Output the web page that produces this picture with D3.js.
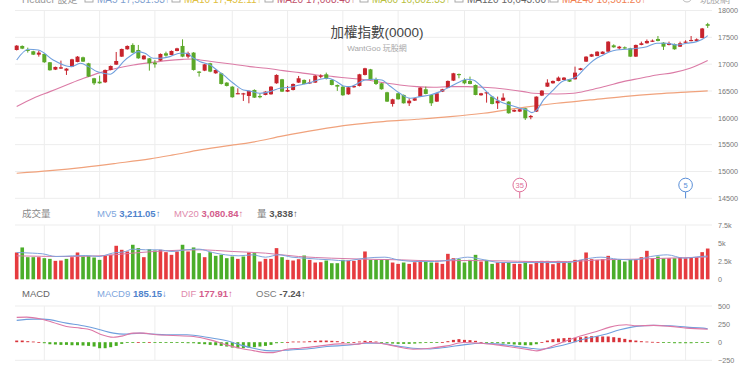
<!DOCTYPE html>
<html><head><meta charset="utf-8">
<script src="https://cdn.jsdelivr.net/npm/d3@7"></script>
<style>
html,body{margin:0;padding:0;background:#fff;overflow:hidden}
svg{display:block;font-family:"Liberation Sans",Arial,"Noto Sans CJK TC",sans-serif}
</style></head><body>
<svg id="c" width="740" height="367"></svg>
<script>
// ---------- DATA ----------
const openP=[17264,17339,17268,17240,17177,17190,17035,16898,16917,16879,
16954,17041,17128,17016,16737,16674,16662,16892,16991,17140,
17277,17358,17264,17090,17109,17028,17066,17202,17171,17246,
17339,17140,17215,16861,16879,17016,16830,16830,16656,16581,
16451,16445,16407,16519,16407,16426,16438,16643,16718,16488,
16519,16656,16706,16643,16656,16768,16811,16706,16612,16581,
16438,16569,16594,16799,16904,16718,16643,16476,16258,16457,
16426,16271,16320,16395,16532,16426,16302,16488,16563,16693,
16817,16706,16687,16612,16420,16465,16395,16271,16320,16302,
16116,16116,16178,16010,16116,16414,16581,16643,16687,16706,
16718,16718,16892,17047,17140,17153,17190,17233,17351,17295,
17314,17295,17140,17358,17389,17420,17470,17401,17358,17376,
17326,17401,17432,17432,17488,17745];
const closeP=[17345,17289,17262,17177,17215,17035,16886,16948,16942,16917,
17090,17140,17047,16768,16643,16643,16892,16966,17059,17283,
17339,17215,17109,17159,17016,16997,17190,17159,17246,17295,
17140,17202,16892,16842,16997,16861,16892,16631,16594,16383,
16460,16457,16501,16376,16383,16488,16581,16799,16488,16519,
16631,16737,16631,16662,16786,16786,16724,16612,16581,16420,
16569,16594,16811,16923,16706,16631,16532,16302,16345,16345,
16271,16320,16364,16563,16445,16271,16457,16532,16687,16830,
16799,16643,16631,16426,16457,16476,16258,16320,16376,16085,
16147,16159,15991,16035,16395,16507,16656,16687,16749,16749,
16674,16842,16923,17140,17184,17233,17233,17420,17314,17326,
17295,17140,17358,17389,17432,17439,17432,17326,17389,17277,
17389,17420,17451,17463,17665,17715];
const highP=[17355,17350,17308,17250,17252,17200,17040,16955,17066,16925,
17100,17150,17140,17025,16745,16786,16900,16975,17227,17290,
17350,17389,17358,17170,17115,17078,17200,17233,17255,17305,
17463,17233,17225,16870,17005,17025,16900,16840,16665,16590,
16550,16465,16510,16530,16457,16495,16590,16810,16725,16594,
16640,16780,16715,16718,16795,16811,16842,16715,16620,16590,
16578,16605,16820,16932,16912,16749,16650,16485,16355,16465,
16435,16364,16370,16570,16581,16435,16465,16540,16695,16838,
16825,16737,16768,16620,16465,16480,16400,16395,16457,16310,
16155,16168,16185,16053,16400,16515,16718,16695,16770,16760,
16725,16954,16930,17148,17192,17240,17240,17428,17370,17340,
17330,17305,17365,17420,17460,17460,17525,17410,17420,17385,
17420,17445,17525,17480,17675,17770];
const lowP=[17255,17280,17215,17170,17140,17025,16880,16890,16910,16799,
16945,17035,17040,16760,16612,16635,16650,16885,16985,17135,
17270,17208,17100,17085,16879,16935,17060,17140,17165,17240,
17130,17109,16880,16768,16870,16850,16820,16620,16585,16375,
16440,16314,16271,16370,16364,16420,16430,16635,16480,16480,
16510,16650,16625,16631,16650,16737,16715,16605,16501,16410,
16430,16560,16585,16790,16700,16612,16525,16295,16209,16340,
16265,16221,16315,16388,16438,16221,16295,16480,16555,16685,
16737,16625,16625,16420,16412,16283,16250,16165,16315,16078,
16108,16108,15960,15973,16108,16405,16575,16637,16680,16700,
16668,16712,16885,17040,17135,17148,17185,17227,17305,17270,
17285,17135,17135,17352,17383,17413,17425,17264,17350,17270,
17320,17395,17425,17425,17480,17675];

const ma5Idx=[0,2.1,3.9,6.6,9.0,9.9,11.5,13.0,14.5,15.7,16.9,18.1,19.3,20.8,22.0,23.2,24.7,25.9,27.7,29.5,30.8,32.0,33.2,35.0,36.2,37.4,39.2,41.0,42.2,44.0,45.8,47.6,49.4,51.2,53.1,54.9,56.4,57.9,59.1,60.3,61.5,63.0,64.5,66.0,67.5,69.3,71.2,73.0,74.8,76.6,78.4,80.2,81.4,82.6,83.8,85.6,87.4,89.2,91.0,92.3,93.2,94.1,95.3,97.1,98.6,100.1,101.3,102.5,103.7,104.9,106.1,107.3,108.5,110.3,112.2,114.0,115.8,117.6,119.4,121.2,123.0,124.8,125];
const ma5=[17078,17277,17264,17078,16966,16954,17016,16954,16861,16830,16811,16904,17047,17171,17233,17202,17109,17109,17140,17202,17202,17109,17047,16985,16892,16799,16643,16519,16501,16457,16488,16550,16569,16612,16656,16718,16737,16674,16594,16581,16631,16706,16718,16706,16594,16457,16364,16395,16426,16488,16581,16674,16718,16706,16612,16430,16302,16240,16178,16147,16097,16147,16333,16519,16674,16718,16768,16892,17016,17109,17171,17233,17264,17277,17295,17326,17389,17389,17358,17389,17420,17513,17531];
const ma20Idx=[0,3.0,6.0,9.0,12.1,15.1,18.1,21.1,24.1,27.1,30.1,32.0,33.2,36.2,39.2,42.2,45.2,48.2,51.2,54.3,57.3,60.3,63.3,66.3,69.3,72.4,75.4,78.4,81.4,84.4,88.6,91.7,93.5,97.7,100.7,103.7,106.7,109.7,112.8,115.8,118.8,121.8,125];
const ma20=[16209,16364,16488,16612,16737,16842,16923,16985,17028,17066,17090,17097,17078,17035,16997,16954,16923,16879,16842,16799,16768,16737,16706,16656,16612,16581,16569,16581,16581,16569,16532,16488,16457,16445,16457,16519,16594,16674,16737,16799,16842,16923,17068];
const ma240Idx=[0,6.0,12.1,18.1,24.1,28.3,33.2,39.2,42.2,48.2,54.3,60.3,66.3,72.4,78.4,84.4,91.7,97.7,103.7,109.7,115.8,121.8,125];
const ma240=[14967,15016,15078,15153,15234,15308,15401,15494,15538,15662,15774,15867,15929,15973,16022,16085,16196,16271,16333,16395,16445,16482,16501];

const volume=[3704,4399,3056,3056,3056,2917,2824,2547,2593,2824,
3056,3704,3148,3241,3010,2685,3241,3380,4630,4074,
3843,4769,4306,3056,4167,3982,4074,3750,3380,3843,
4769,3843,4399,3611,3056,3750,3241,3380,2917,3148,
2824,3148,3704,3611,2454,2824,2824,4306,3056,2685,
2593,2778,3287,2685,2315,2361,2593,2222,2222,2685,
2593,2547,2685,3843,2685,2685,2685,2778,2315,2130,
2315,2130,2361,2593,2454,2315,2315,2130,3519,2917,
2778,2315,2685,3380,2454,2685,2130,2315,2315,2315,
2130,2130,2454,2084,2454,2547,2547,2084,2547,2361,
2315,2685,2685,3704,2778,2685,2778,3241,2685,2685,
2454,2685,2778,3056,3936,2917,3148,2917,2917,2917,
3056,2917,3056,3056,3750,4250];
const volUp=[1,0,0,0,1,0,0,1,1,0, 1,1,0,0,0,0,1,1,1,1, 1,0,0,1,0,0,1,1,1,1, 0,1,0,0,1,0,0,0,0,0,
1,0,1,0,1,1,1,1,0,1, 1,1,0,1,1,1,0,0,0,0, 1,1,1,1,0,0,0,0,1,1, 0,1,1,1,0,0,1,1,1,1,
0,0,0,0,1,0,0,1,1,0, 1,1,0,1,1,1,1,1,1,1, 0,1,1,1,1,1,1,1,0,0, 0,0,1,1,1,1,0,0,1,0, 1,1,1,1,1,1];
const mv5Idx=[0,2.9,4.7,7.1,10.1,12.5,14.9,17.3,19.7,20.9,23.3,25.7,28.1,30.5,33.0,35.4,37.8,40.2,42.6,45.0,47.4,49.8,52.2,54.6,57.0,59.4,61.8,63.0,66.6,69.0,72.6,75.6,79.2,81.6,84.0,87.6,93.6,99.7,102.7,105.7,108.7,111.7,114.7,117.7,120.7,123.7,125];
const mv5=[3704,3611,3519,3148,3241,3287,3148,3611,3843,4167,4074,4074,3843,4074,4167,3704,3380,3241,3380,3056,3380,3056,2917,2778,2685,2547,2778,2917,3056,2685,2454,2454,2778,3056,2778,2315,2315,2315,2778,3056,2778,2685,3148,3380,2917,3148,3211];
const mv20Idx=[0,8.9,14.9,20.9,26.9,33.0,39.0,45.0,51.0,57.0,63.0,69.6,75.6,81.6,87.6,93.6,99.7,105.7,111.7,117.7,125];
const mv20=[3241,3148,3241,3611,3936,4074,3843,3611,3148,2917,2778,2685,2547,2593,2547,2454,2454,2685,2778,2917,3081];

const osc=[23,23,14,9,3,-14,-28,-32,-37,-37,
-42,-42,-46,-51,-60,-83,-83,-69,-51,-23,
-3,-5,2,-2,3,-3,-9,-9,-9,-5,
-9,-14,-14,-23,-28,-37,-42,-51,-60,-74,
-83,-83,-74,-69,-60,-51,-37,-14,-3,3,
9,9,9,14,19,23,23,19,14,3,
-2,2,9,19,14,9,-3,-14,-19,-23,
-23,-23,-19,-14,-9,-9,-5,2,14,32,
42,32,28,19,3,-5,-9,-14,-19,-23,
-32,-37,-42,-42,-28,3,23,42,51,56,
60,60,69,79,83,83,79,79,69,60,
46,32,23,14,9,5,3,-2,-9,-14,
-14,-14,-14,-9,-9,-7];
const macdIdx=[0,3.0,4.8,9.0,12.7,15.1,17.5,19.3,22.3,24.7,27.1,30.8,34.4,38.0,40.4,42.8,45.2,47.0,49.5,52.5,56.1,59.7,63.3,65.7,68.7,71.7,74.8,77.8,80.8,83.8,86.8,89.8,92.9,94.7,97.7,100.1,102.5,106.1,109.1,112.1,115.2,118.2,121.2,124.2,125];
const macd9=[301,319,319,264,218,171,125,111,125,111,102,102,69,19,-37,-83,-116,-120,-106,-93,-60,-42,-14,-14,-51,-83,-93,-69,-37,-14,-23,-51,-83,-97,-60,-14,42,102,171,218,232,227,208,194,185];
const difIdx=[0,1.8,4.2,6.6,9.0,11.5,13.3,15.1,17.5,19.3,21.1,22.9,25.3,28.3,32.0,35.0,38.0,40.4,42.8,45.2,46.4,48.9,51.3,54.9,58.5,61.5,63.3,65.7,68.7,71.7,74.8,77.8,80.8,83.8,86.8,89.8,92.9,94.1,95.9,98.3,101.3,104.9,107.3,110.3,112.1,115.2,118.2,121.2,125];
const dif=[343,347,324,273,218,194,171,111,69,88,125,125,102,93,79,32,-37,-83,-116,-144,-144,-97,-83,-51,-23,-28,-5,-14,-60,-97,-83,-51,-5,-14,-37,-69,-106,-120,-83,-14,69,148,208,241,227,232,218,194,178];

const priceTicks=[18000,17500,17000,16500,16000,15500,15000,14500];
const volTicks=[7500,5000,2500,0];
const volTickLabels=["7.5k","5k","2.5k","0"];
const macdTicks=[500,250,0,-250];
const gridIdx=[5,15,25,39,49,59,69,81,91,101,111,121];
const markerIdx=[91,121];
const markerText=["35","5"];

// ---------- SCALES ----------
const svg=d3.select("#c");
const plotL=15, plotR=712;
const x=d3.scaleLinear().domain([0,125]).range([16.7,707.7]);
const yP=d3.scaleLinear().domain([14500,18000]).range([198.3,10.5]);
const yV=d3.scaleLinear().domain([0,7500]).range([279.3,225]);
const yM=d3.scaleLinear().domain([-250,500]).range([360.3,306]);

const RED="#c7242d", GREEN="#5ba828", VRED="#e63b3f", VGREEN="#4bae2a";
const GRID="#ededed";

// ---------- top legend strip (scrolled off the top edge, as in the reference) ----------
const topG=svg.append("g").attr("font-size",10);
topG.append("text").attr("x",22).attr("y",2.5).attr("fill","#999").text("Header 設定");
const legItems=[{x:85,c:"#7f9fcf",t:"MA5 17,531.53↑"},{x:172,c:"#e0c040",t:"MA10 17,452.11↑"},
 {x:265,c:"#c0506a",t:"MA20 17,068.40↑"},{x:360,c:"#b8c040",t:"MA60 16,802.35↑"},
 {x:455,c:"#666",t:"MA120 16,643.60↑"},{x:550,c:"#f08050",t:"MA240 16,501.26↑"}];
legItems.forEach(d=>{
  topG.append("rect").attr("x",d.x).attr("y",-7).attr("width",8).attr("height",9)
    .attr("fill","none").attr("stroke","#aaa");
  topG.append("text").attr("x",d.x+12).attr("y",2.5).attr("fill",d.c).text(d.t);
});
topG.append("circle").attr("cx",687).attr("cy",-3).attr("r",5).attr("fill","none").attr("stroke","#bbb");
topG.append("text").attr("x",700).attr("y",2.5).attr("fill","#aaa").text("玩股網");

// ---------- GRID ----------
const g=svg.append("g");
g.selectAll(".hp").data(priceTicks).join("line")
 .attr("x1",plotL).attr("x2",plotR).attr("y1",d=>yP(d)).attr("y2",d=>yP(d))
 .attr("stroke",GRID);
[[yP(18000),yP(14500)],[yV(7500),yV(0)],[yM(500),yM(-250)]].forEach(r=>{
  g.append("g").selectAll("line").data(gridIdx).join("line")
   .attr("x1",d=>x(d)).attr("x2",d=>x(d)).attr("y1",r[0]).attr("y2",r[1]).attr("stroke",GRID);
});
g.append("line").attr("x1",plotL).attr("x2",plotR).attr("y1",yV(7500)).attr("y2",yV(7500)).attr("stroke",GRID);
[500,-250].forEach(v=>g.append("line").attr("x1",plotL).attr("x2",plotR).attr("y1",yM(v)).attr("y2",yM(v)).attr("stroke",GRID));

// ---------- TITLE ----------
svg.append("text").attr("x",377).attr("y",36.5).attr("text-anchor","middle")
 .attr("font-size",13.5).attr("fill","#444").text("加權指數(0000)");
svg.append("text").attr("x",377).attr("y",51).attr("text-anchor","middle")
 .attr("font-size",8).attr("fill","#a8a8a8").text("WantGoo 玩股網");

// ---------- AXES ----------
function rightAxis(scale,ticks,fmt){
  const a=d3.axisRight(scale).tickValues(ticks).tickSize(0).tickPadding(0).tickFormat(fmt);
  const ga=svg.append("g").attr("transform","translate(718,0)").call(a);
  ga.select(".domain").remove();
  ga.selectAll("text").attr("font-size",7.2).attr("fill","#777")
    .attr("font-family",'"Liberation Sans",Arial,sans-serif');
}
rightAxis(yP,priceTicks,d3.format("d"));
rightAxis(yV,volTicks,(d,i)=>volTickLabels[i]);
rightAxis(yM,macdTicks,d3.format("d"));

// ---------- MA LINES (price) ----------
function drawLine(idx,vals,ys,color,w){
  const pts=idx.map((d,i)=>[x(d),ys(vals[i])]);
  svg.append("path").attr("d",d3.line().curve(d3.curveMonotoneX)(pts))
   .attr("fill","none").attr("stroke",color).attr("stroke-width",w||1.1);
}
drawLine(ma240Idx,ma240,yP,"#f0a27c",1.2);
drawLine(ma20Idx,ma20,yP,"#db7ba6",1.1);

// ---------- CANDLES ----------
const idxs=d3.range(openP.length);
const cg=svg.append("g");
cg.selectAll("line").data(idxs).join("line")
 .attr("x1",i=>x(i)).attr("x2",i=>x(i))
 .attr("y1",i=>yP(highP[i])).attr("y2",i=>yP(lowP[i]))
 .attr("stroke",i=>closeP[i]>=openP[i]?RED:GREEN).attr("stroke-width",1);
cg.selectAll("rect").data(idxs).join("rect")
 .attr("x",i=>x(i)-2).attr("width",4)
 .attr("y",i=>yP(Math.max(openP[i],closeP[i])))
 .attr("height",i=>Math.max(1.2,yP(Math.min(openP[i],closeP[i]))-yP(Math.max(openP[i],closeP[i]))))
 .attr("fill",i=>closeP[i]>=openP[i]?RED:GREEN);
drawLine(ma5Idx,ma5,yP,"#6f9fdd",1.1);

// ---------- MARKERS ----------
const mColors=["#e0709a","#5a8fd8"];
markerIdx.forEach((m,i)=>{
  svg.append("line").attr("x1",x(m)).attr("x2",x(m)).attr("y1",192).attr("y2",198.3).attr("stroke",mColors[i]);
  svg.append("circle").attr("cx",x(m)).attr("cy",185).attr("r",6.8).attr("fill","#fff").attr("stroke",mColors[i]).attr("stroke-width",1);
  svg.append("text").attr("x",x(m)).attr("y",187.8).attr("text-anchor","middle").attr("font-size",7.5)
   .attr("fill",mColors[i]).text(markerText[i]);
});

// ---------- VOLUME ----------
function header(xp,yp,parts){
  const t=svg.append("text").attr("x",xp).attr("y",yp).attr("font-size",9.5);
  parts.forEach(p=>t.append("tspan").attr("fill",p[1]).attr("font-weight",p[2]?"bold":"normal").text(p[0]));
}
svg.append("text").attr("x",22).attr("y",216.5).attr("font-size",9.5).attr("fill","#888").text("成交量");
header(97,216.5,[["MV5 ","#7da5dd"],["3,211.05","#4f83cc",1],["↑","#4f83cc"]]);
header(174,216.5,[["MV20 ","#e08aac"],["3,080.84","#d45d8c",1],["↑","#d45d8c"]]);
header(257,216.5,[["量 ","#777"],["3,838","#555",1],["↑","#555"]]);

svg.append("g").selectAll("rect").data(idxs).join("rect")
 .attr("x",i=>x(i)-1.8).attr("width",3.6)
 .attr("y",i=>yV(volume[i])).attr("height",i=>yV(0)-yV(volume[i]))
 .attr("fill",i=>volUp[i]?VRED:VGREEN);
drawLine(mv20Idx,mv20,yV,"#d67aa8",1);
drawLine(mv5Idx,mv5,yV,"#7fa3dc",1);

// ---------- MACD ----------
svg.append("text").attr("x",22).attr("y",297).attr("font-size",9.5).attr("fill","#666").text("MACD");
header(97,297,[["MACD9 ","#7da5dd"],["185.15","#4f83cc",1],["↓","#4f83cc"]]);
header(181,297,[["DIF ","#e08aac"],["177.91","#d45d8c",1],["↑","#d45d8c"]]);
header(256,297,[["OSC ","#777"],["-7.24","#555",1],["↑","#555"]]);

svg.append("g").selectAll("rect").data(idxs).join("rect")
 .attr("x",i=>x(i)-1.5).attr("width",3)
 .attr("y",i=>Math.min(yM(0),yM(osc[i])))
 .attr("height",i=>Math.max(0.8,Math.abs(yM(osc[i])-yM(0))))
 .attr("fill",i=>osc[i]>=0?"#d8333a":"#49ad22");
drawLine(macdIdx,macd9,yM,"#6f9fdd",1.1);
drawLine(difIdx,dif,yM,"#dd78a6",1.1);
</script>
</body></html>
